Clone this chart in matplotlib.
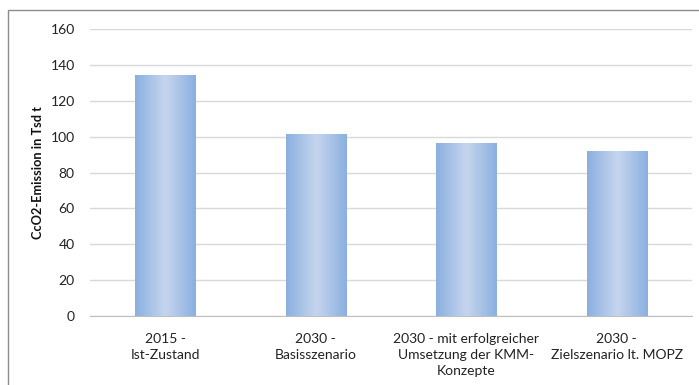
import matplotlib
matplotlib.use("Agg")
import matplotlib.pyplot as plt
import numpy as np
from matplotlib.colors import LinearSegmentedColormap
from matplotlib.patches import Rectangle

categories = ["2015 -\nIst-Zustand", "2030 -\nBasisszenario",
              "2030 - mit erfolgreicher\nUmsetzung der KMM-\nKonzepte",
              "2030 -\nZielszenario lt. MOPZ"]
values = [134.5, 101.7, 96.7, 92.2]
yticks = [0, 20, 40, 60, 80, 100, 120, 140, 160]
ylabel = "CcO2-Emission in Tsd t"

plt.rcParams['font.family'] = ['Lato', 'DejaVu Sans']

fig = plt.figure(figsize=(6.99, 3.85), dpi=100)
ax = fig.add_axes([90/699, 1-316/385, (692-90)/699, (316-29)/385])

x = np.arange(len(categories))
bars = ax.bar(x, values, width=0.4, color="#A9C2E8", zorder=2)

cmap = LinearSegmentedColormap.from_list("g", ["#8AB0E0", "#C6D5EE", "#8AB0E0"])
grad = np.linspace(0, 1, 256).reshape(1, -1)
for b in bars:
    x0, y0, w, h = b.get_x(), b.get_y(), b.get_width(), b.get_height()
    im = ax.imshow(grad, cmap=cmap, extent=[x0, x0 + w, y0, y0 + h],
                   aspect='auto', zorder=3, interpolation='bicubic')
    im.set_clip_path(b)

ax.set_xlim(-0.5, len(categories) - 0.5)
ax.set_ylim(0, 160)
ax.set_yticks(yticks)
ax.set_xticks(x)
ax.set_xticklabels(categories, fontsize=10, color="#222222", linespacing=1.4)
ax.tick_params(axis='y', labelsize=10, colors="#222222", length=0, pad=11)
ax.tick_params(axis='x', length=0, pad=12)
ax.yaxis.grid(True, color="#D9D9D9", linewidth=1, zorder=0)
ax.set_axisbelow(True)
for s in ['top', 'right', 'left']:
    ax.spines[s].set_visible(False)
ax.spines['bottom'].set_color("#BFBFBF")
ax.set_ylabel(ylabel, fontsize=9.2, fontweight='bold', color="#111111", labelpad=5)

fig.patches.append(Rectangle((8/699, -0.1), 1.2, 1 - 10/385 + 0.1, transform=fig.transFigure,
                             fill=False, edgecolor="#8C8C8C", linewidth=1))

fig.savefig("out.png", dpi=100)
